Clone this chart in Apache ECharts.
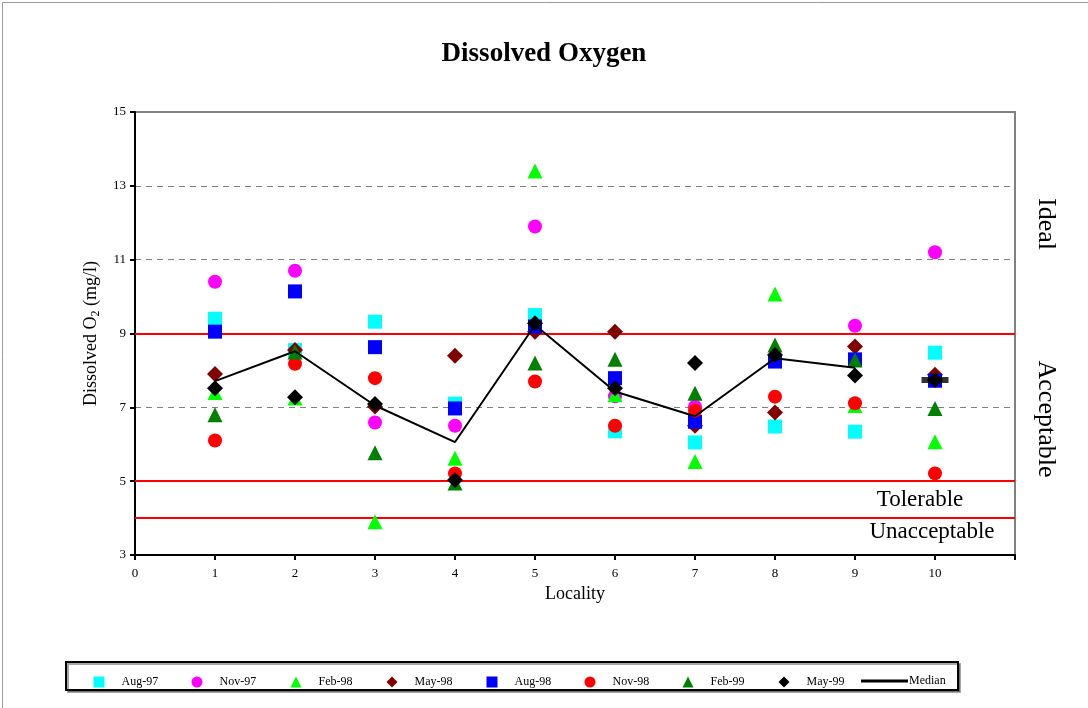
<!DOCTYPE html>
<html>
<head>
<meta charset="utf-8">
<script src="https://cdn.jsdelivr.net/npm/echarts@6/dist/echarts.min.js"></script>
<style>
html,body{margin:0;padding:0;background:#fff;}
#c{width:1088px;height:708px;}
</style>
</head>
<body>
<div id="c"></div>
<script>
// ---- data ----
const localities = [1, 2, 3, 4, 5, 6, 7, 8, 9, 10];
const seriesNames = ['Aug-97', 'Nov-97', 'Feb-98', 'May-98', 'Aug-98', 'Nov-98', 'Feb-99', 'May-99'];
const aug97 = [9.4, 8.55, 9.32, 7.1, 9.5, 6.35, 6.05, 6.48, 6.34, 8.48];
const nov97 = [10.4, 10.7, 6.59, 6.5, 11.9, 7.3, 7.02, 8.35, 9.21, 11.2];
const feb98 = [7.4, 7.25, 3.9, 5.62, 13.4, 7.34, 5.53, 10.07, 7.05, 6.07];
const may98 = [7.9, 8.55, 7.02, 8.4, 9.05, 9.05, 6.5, 6.86, 8.65, 7.88];
const aug98 = [9.05, 10.14, 8.63, 6.97, 9.19, 7.79, 6.61, 8.24, 8.3, 7.72];
const nov98 = [6.1, 8.18, 7.79, 5.21, 7.7, 6.5, 6.91, 7.29, 7.11, 5.21];
const feb99 = [6.8, 8.5, 5.77, 4.95, 8.2, 8.3, 7.38, 8.69, 8.28, 6.97];
const may99 = [7.52, 7.27, 7.09, 5.03, 9.28, 7.52, 8.2, 8.42, 7.86, 7.74];
const median = [7.71, 8.52, 7.05, 6.06, 9.23, 7.43, 6.76, 8.33, 8.07, 7.74];
const medianJoinedCount = 9; // localities 1..9 joined by the line, 10 shown alone
const redLevels = [4, 5, 9];
const yTicks = [3, 5, 7, 9, 11, 13, 15];
const xTicks = [0, 1, 2, 3, 4, 5, 6, 7, 8, 9, 10];

const values = [aug97, nov97, feb98, may98, aug98, nov98, feb99, may99];
const colors = ['#00FFFF', '#FF00FF', '#00FF00', '#800000', '#0000FF', '#FF0000', '#008000', '#000000'];
const symbols = ['rect', 'circle', 'triangle', 'diamond', 'rect', 'circle', 'triangle', 'diamond'];
const sizes = [14, 14, 15, 16, 14, 14, 15, 16];
const legendX = [94, 192, 291, 387, 487, 585, 683, 779];

const FONT = "'Liberation Serif','Times New Roman',serif";
const chart = echarts.init(document.getElementById('c'), null, {renderer: 'canvas'});

const series = [];
series.push({
  name: '_levels', type: 'line', data: [], z: 1, silent: true,
  markLine: {
    silent: true, symbol: 'none', label: {show: false},
    lineStyle: {color: '#FF0000', width: 2, type: 'solid'},
    data: redLevels.map(v => ({yAxis: v}))
  }
});
seriesNames.forEach((n, i) => {
  series.push({
    name: n, type: 'scatter', symbol: symbols[i], symbolSize: sizes[i], z: 3 + i,
    itemStyle: {color: colors[i], opacity: 1},
    data: localities.map((x, j) => [x, values[i][j]])
  });
});
series.push({
  name: 'Median', type: 'line', symbol: 'none', z: 20,
  lineStyle: {color: '#000', width: 2},
  itemStyle: {color: '#000'},
  data: localities.slice(0, medianJoinedCount).map((x, j) => [x, median[j]])
});
series.push({
  name: 'Median', type: 'scatter', symbol: 'rect', symbolSize: [27, 6], z: 21,
  itemStyle: {color: '#000'},
  data: localities.slice(medianJoinedCount).map((x, j) => [x, median[medianJoinedCount + j]])
});

const legends = seriesNames.map((n, i) => ({
  data: [{name: n, icon: symbols[i]}],
  left: legendX[i] - 5.5, top: 671, itemWidth: 11, itemHeight: 11, itemGap: 0,
  selectedMode: false,
  textStyle: {fontFamily: FONT, fontSize: 12, color: '#000', padding: [0, 0, 0, 12]}
}));
legends.push({
  data: [{name: 'Median', icon: 'rect'}], left: 856, top: 670, itemWidth: 47, itemHeight: 3, itemGap: 0,
  selectedMode: false,
  textStyle: {fontFamily: FONT, fontSize: 12, color: '#000', padding: [0, 0, 0, -4]}
});

chart.setOption({
  animation: false,
  backgroundColor: '#fff',
  title: {
    text: 'Dissolved Oxygen', left: 'center', top: 36,
    textStyle: {fontFamily: FONT, fontSize: 27, fontWeight: 'bold', color: '#000'}
  },
  legend: legends,
  grid: {left: 135, right: 73, top: 112, bottom: 153, show: true, borderColor: '#808080', borderWidth: 2, backgroundColor: 'transparent'},
  xAxis: {
    type: 'value', min: 0, max: 11, interval: 1,
    name: 'Locality', nameLocation: 'middle', nameGap: 30,
    nameTextStyle: {fontFamily: FONT, fontSize: 18, color: '#000'},
    axisLine: {show: true, lineStyle: {color: '#000', width: 2}},
    axisTick: {show: true, inside: false, length: 5, lineStyle: {color: '#000', width: 2}},
    axisLabel: {fontFamily: FONT, fontSize: 13, color: '#000', margin: 12,
      formatter: v => xTicks.indexOf(v) >= 0 ? String(v) : ''},
    splitLine: {show: false}
  },
  yAxis: {
    type: 'value', min: 3, max: 15, interval: 2,
    name: '{a|Dissolved O}{b|2}{a| (mg/l)}', nameLocation: 'middle', nameGap: 31, nameRotate: 90,
    nameTextStyle: {
      fontFamily: FONT, fontSize: 18, color: '#000',
      rich: {
        a: {fontFamily: FONT, fontSize: 18, color: '#000', verticalAlign: 'top', lineHeight: 20},
        b: {fontFamily: FONT, fontSize: 12, color: '#000', verticalAlign: 'bottom', lineHeight: 12, padding: [10, 0, 0, 0]}
      }
    },
    axisLine: {show: true, lineStyle: {color: '#000', width: 2}},
    axisTick: {show: true, inside: false, length: 5, lineStyle: {color: '#000', width: 2}},
    axisLabel: {fontFamily: FONT, fontSize: 13, color: '#000', margin: 9,
      formatter: v => yTicks.indexOf(v) >= 0 ? String(v) : ''},
    splitLine: {show: true, lineStyle: {color: '#808080', width: 1, type: [6, 5]}}
  },
  graphic: [
    {type: 'rect', left: 0, top: 0, z: -10, silent: true,
      shape: {x: 0.5, y: 0.5, width: 1087, height: 707}, style: {fill: 'none', stroke: '#9a9a9a', lineWidth: 1}},
    {type: 'rect', z: 0, silent: true,
      shape: {x: 66, y: 662, width: 892, height: 28},
      style: {fill: '#fff', stroke: '#000', lineWidth: 2, shadowColor: 'rgba(0,0,0,0.35)', shadowOffsetX: 2, shadowOffsetY: 2, shadowBlur: 0}},
    {type: 'text', x: 1046, y: 224, rotation: -Math.PI / 2, silent: true,
      style: {text: 'Ideal', fontFamily: FONT, fontSize: 26, fill: '#000', align: 'center', verticalAlign: 'middle'}},
    {type: 'text', x: 1046, y: 419, rotation: -Math.PI / 2, silent: true,
      style: {text: 'Acceptable', fontFamily: FONT, fontSize: 26, fill: '#000', align: 'center', verticalAlign: 'middle'}},
    {type: 'text', x: 920, y: 500, silent: true,
      style: {text: 'Tolerable', fontFamily: FONT, fontSize: 23, fill: '#000', align: 'center', verticalAlign: 'middle'}},
    {type: 'text', x: 932, y: 532, silent: true,
      style: {text: 'Unacceptable', fontFamily: FONT, fontSize: 23, fill: '#000', align: 'center', verticalAlign: 'middle'}}
  ],
  series: series
});
</script>
</body>
</html>
